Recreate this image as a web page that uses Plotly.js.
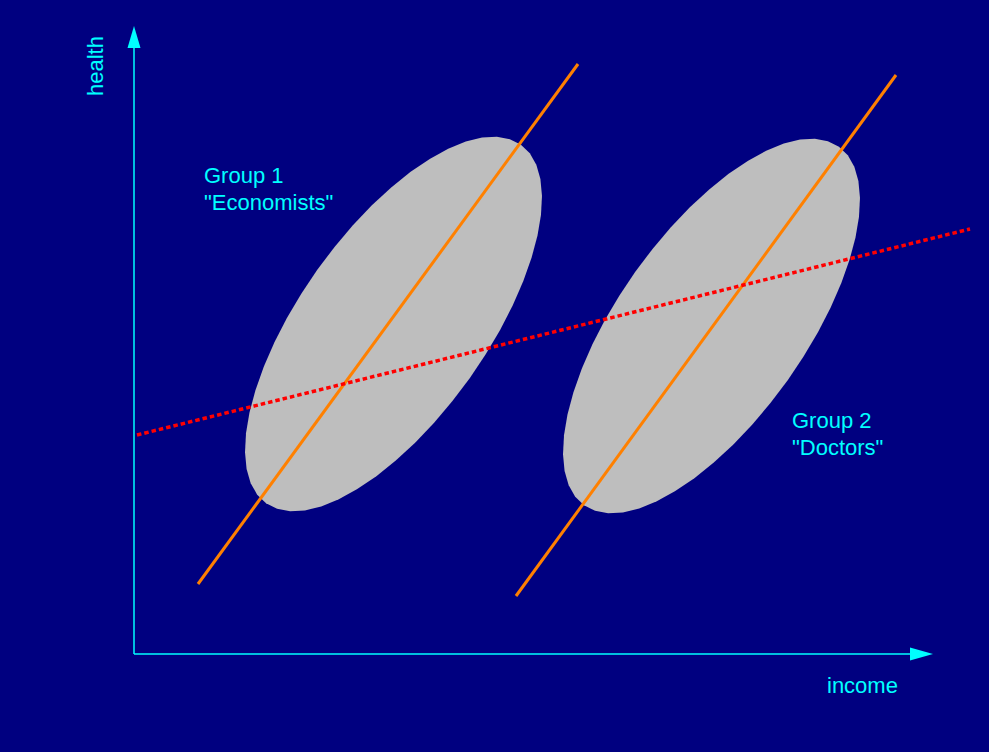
<!DOCTYPE html>
<html>
<head>
<meta charset="utf-8">
<script src="https://cdn.plot.ly/plotly-3.0.1.min.js"></script>
<style>
  body { margin: 0; background: #000080; }
  #chart { width: 989px; height: 752px; }
</style>
</head>
<body>
<div id="chart"></div>
<script>
// Units: income / health, origin at the axis corner.
const groupNames = ["Group 1", "Group 2"];
const groupLabels = ['"Economists"', '"Doctors"'];
const groupCenterX = [2.595, 5.775];
const groupCenterY = [3.3, 3.28];
const spreadMajor = [2.2, 2.2];
const spreadMinor = [0.935, 0.935];
const spreadAngle = [54.6, 54.6]; // degrees

// Within-group fit lines (orange).
const groupFitX = [[0.64, 4.44], [3.82, 7.62]];
const groupFitY = [[0.7, 5.9], [0.58, 5.79]];

// Pooled fit line (red dotted).
const pooledFitX = [0.03, 8.36];
const pooledFitY = [2.19, 4.25];

const BG = "#000080";
const CYAN = "#00ffff";
const FONT = "Liberation Sans, Arial, sans-serif";

// Outline of a spread ellipse from its centre, axes and angle.
function ellipseOutline(i) {
  const t = (spreadAngle[i] * Math.PI) / 180;
  const xs = [];
  const ys = [];
  for (let k = 0; k <= 48; k++) {
    const u = (2 * Math.PI * k) / 48;
    const ex = spreadMajor[i] * Math.cos(u);
    const ey = spreadMinor[i] * Math.sin(u);
    xs.push(groupCenterX[i] + ex * Math.cos(t) - ey * Math.sin(t));
    ys.push(groupCenterY[i] + ex * Math.sin(t) + ey * Math.cos(t));
  }
  return { xs, ys };
}

const traces = [];

groupNames.forEach((name, i) => {
  const { xs, ys } = ellipseOutline(i);
  traces.push({
    x: xs,
    y: ys,
    mode: "lines",
    fill: "toself",
    fillcolor: "#bebebe",
    line: { width: 0, color: "#bebebe" },
    hoverinfo: "skip",
  });
});

groupNames.forEach((name, i) => {
  traces.push({
    x: groupFitX[i],
    y: groupFitY[i],
    mode: "lines",
    line: { color: "#ff8000", width: 3 },
    hoverinfo: "skip",
  });
});

traces.push({
  x: pooledFitX,
  y: pooledFitY,
  mode: "lines",
  line: { color: "#ff0000", width: 3.5, dash: "4.5px,3px" },
  hoverinfo: "skip",
});

const axisLine = { color: CYAN, width: 1.5 };
const shapes = [
  { type: "line", xref: "x", yref: "y", x0: 0, y0: 0, x1: 7.8, y1: 0, line: axisLine },
  { type: "line", xref: "x", yref: "y", x0: 0, y0: 0, x1: 0, y1: 6.1, line: axisLine },
  // arrow heads
  {
    type: "path", xref: "x", yref: "y",
    path: "M 7.99 0 L 7.76 0.065 L 7.76 -0.065 Z",
    fillcolor: CYAN, line: { width: 0 },
  },
  {
    type: "path", xref: "x", yref: "y",
    path: "M 0 6.28 L -0.065 6.06 L 0.065 6.06 Z",
    fillcolor: CYAN, line: { width: 0 },
  },
];

const textFont = { family: FONT, size: 22, color: CYAN };
const note = (x, y, text, extra) =>
  Object.assign(
    { x, y, xref: "x", yref: "y", text, showarrow: false, font: textFont, xanchor: "left", yanchor: "middle" },
    extra || {}
  );

const annotations = [
  note(0.68, 4.79, groupNames[0]),
  note(0.68, 4.52, groupLabels[0]),
  note(6.56, 2.34, groupNames[1]),
  note(6.56, 2.07, groupLabels[1]),
  note(7.28, -0.315, "income", { xanchor: "center" }),
  note(-0.39, 5.88, "health", { xanchor: "center", textangle: -90 }),
];

Plotly.newPlot(
  "chart",
  traces,
  {
    width: 989,
    height: 752,
    showlegend: false,
    paper_bgcolor: BG,
    plot_bgcolor: BG,
    margin: { l: 0, r: 0, t: 0, b: 0 },
    xaxis: { range: [-1.34, 8.55], visible: false, fixedrange: true },
    yaxis: { range: [-0.98, 6.54], visible: false, fixedrange: true },
    shapes,
    annotations,
  },
  { staticPlot: true }
);
</script>
</body>
</html>
